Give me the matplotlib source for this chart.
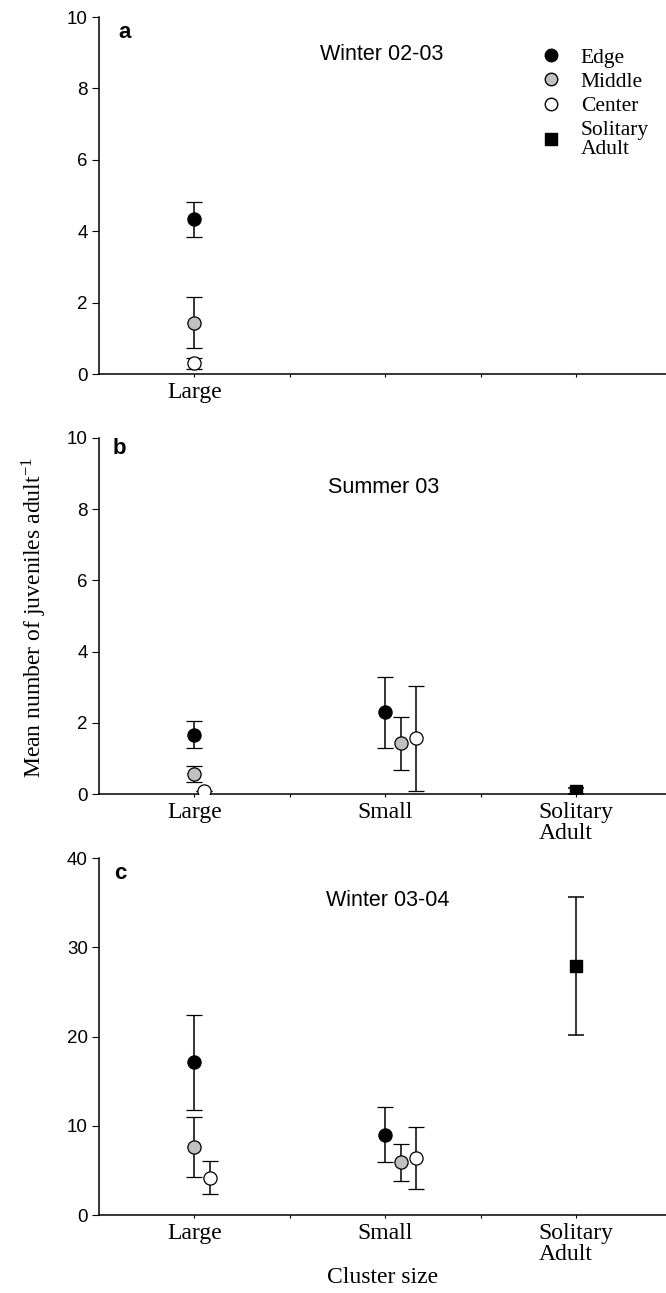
import numpy as np
import matplotlib
matplotlib.use("Agg")
import matplotlib.pyplot as plt
from matplotlib.lines import Line2D

plt.rcParams['font.family'] = ['Liberation Sans', 'DejaVu Sans']
plt.rcParams['mathtext.fontset'] = 'stix'

groups = ['Large', 'Small', 'Solitary\nAdult']
positions = ['Edge', 'Middle', 'Center']

# panel a: Winter 02-03 (only large clusters)
a_mean = [4.33, 1.44, 0.30]
a_err = [0.48, 0.71, 0.16]

# panel b: Summer 03
b_large_mean = [1.67, 0.56, 0.08]
b_large_err = [0.38, 0.23, 0.0]
b_small_mean = [2.29, 1.42, 1.56]
b_small_err = [1.00, 0.74, 1.47]
b_sol_mean = 0.08
b_sol_err = 0.08

# panel c: Winter 03-04
c_large_mean = [17.1, 7.6, 4.2]
c_large_err = [5.3, 3.35, 1.83]
c_small_mean = [9.0, 5.9, 6.4]
c_small_err = [3.08, 2.1, 3.44]
c_sol_mean = 27.9
c_sol_err = 7.7

face = {'Edge': 'black', 'Middle': '#c0c0c0', 'Center': 'white'}
serif = ['Liberation Serif', 'DejaVu Serif']

fig = plt.figure(figsize=(6.66, 12.93), dpi=100)
ax_a = fig.add_axes([0.1486, 0.7107, 0.8514, 0.2761])
ax_b = fig.add_axes([0.1486, 0.3859, 0.8514, 0.2754])
ax_c = fig.add_axes([0.1486, 0.0603, 0.8514, 0.2761])


def draw_group(ax, x0, means, errs, dodge):
    for p, m, e, d in zip(positions, means, errs, dodge):
        ax.errorbar(x0 + d, m, yerr=e, fmt='o', ms=9.5, mfc=face[p], mec='black',
                    mew=0.9, ecolor='black', elinewidth=1.1, capsize=5.5, capthick=1.1,
                    zorder=3)


def draw_solitary(ax, x0, m, e):
    ax.errorbar(x0, m, yerr=e, fmt='s', ms=8.5, mfc='black', mec='black',
                ecolor='black', elinewidth=1.1, capsize=5.5, capthick=1.1, zorder=3)


def style(ax, ymax, step, show_labels):
    ax.set_xlim(0.5, 3.47)
    ax.set_ylim(0, ymax)
    ax.set_yticks(np.arange(0, ymax + 0.1, step))
    ax.set_xticks([1, 1.5, 2, 2.5, 3])
    labels = [groups[0], '', groups[1], '', groups[2]] if show_labels else [groups[0], '', '', '', '']
    ax.set_xticklabels(labels, family=serif, fontsize=17)
    for lab in ax.get_xticklabels():
        lab.set_multialignment('left')
        lab.set_linespacing(0.95)
    ax.spines['top'].set_visible(False)
    ax.spines['right'].set_visible(False)
    ax.spines['left'].set_linewidth(1.1)
    ax.spines['bottom'].set_linewidth(1.1)
    ax.tick_params(axis='y', direction='out', length=5, labelsize=13.5, pad=3)
    ax.tick_params(axis='x', direction='out', length=2, pad=4)


# panel a
draw_group(ax_a, 1, a_mean, a_err, [0, 0, 0])
style(ax_a, 10, 2, False)
ax_a.text(0.035, 0.958, 'a', transform=ax_a.transAxes, fontsize=16, fontweight='bold', va='center')
ax_a.text(0.498, 0.896, 'Winter 02-03', transform=ax_a.transAxes, fontsize=15.5, ha='center', va='center')
handles = [Line2D([], [], ls='none', marker='o', ms=9, mfc=face[p], mec='black') for p in positions]
handles.append(Line2D([], [], ls='none', marker='s', ms=8, mfc='black', mec='black'))
leg = ax_a.legend(handles, positions + ['Solitary\nAdult'], loc='upper left', bbox_to_anchor=(0.755, 0.945),
                  frameon=False, prop={'family': serif, 'size': 15.5}, handletextpad=0.8,
                  labelspacing=0.2, handlelength=1.2, borderpad=0)
for t in leg.get_texts():
    t.set_linespacing(1.0)

# panel b
draw_group(ax_b, 1, b_large_mean, b_large_err, [0, 0, 0.05])
draw_group(ax_b, 2, b_small_mean, b_small_err, [0, 0.08, 0.16])
draw_solitary(ax_b, 3, b_sol_mean, b_sol_err)
style(ax_b, 10, 2, True)
ax_b.text(0.024, 0.969, 'b', transform=ax_b.transAxes, fontsize=16, fontweight='bold', va='center')
ax_b.text(0.502, 0.86, 'Summer 03', transform=ax_b.transAxes, fontsize=15.5, ha='center', va='center')

# panel c
draw_group(ax_c, 1, c_large_mean, c_large_err, [0, 0, 0.08])
draw_group(ax_c, 2, c_small_mean, c_small_err, [0, 0.08, 0.16])
draw_solitary(ax_c, 3, c_sol_mean, c_sol_err)
style(ax_c, 40, 10, True)
ax_c.text(0.026, 0.958, 'c', transform=ax_c.transAxes, fontsize=16, fontweight='bold', va='center')
ax_c.text(0.51, 0.882, 'Winter 03-04', transform=ax_c.transAxes, fontsize=15.5, ha='center', va='center')
ax_c.set_xlabel('Cluster size', family=serif, fontsize=17, labelpad=2)

fig.text(0.051, 0.522, r'Mean number of juveniles adult$^{\mathregular{-1}}$', rotation=90,
         family=serif, fontsize=17, ha='center', va='center')

fig.savefig('out.png', dpi=100)
